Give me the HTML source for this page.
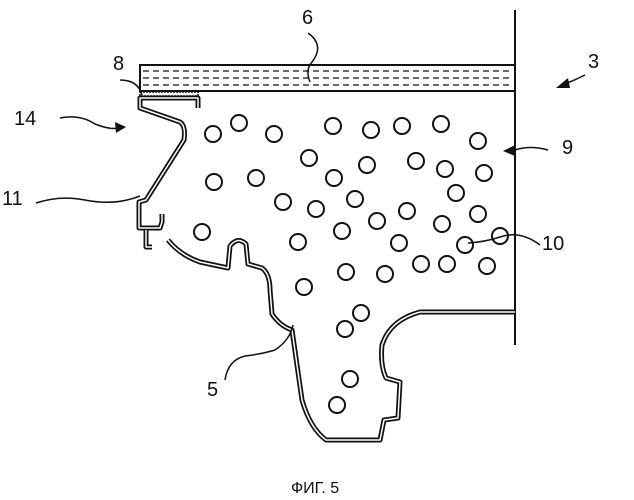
<!DOCTYPE html><html><head><style>body{margin:0;background:#fff}svg{display:block}text{font-family:"Liberation Sans",sans-serif;font-size:20px;fill:#111}</style></head><body>
<svg width="634" height="500" viewBox="0 0 634 500" xmlns="http://www.w3.org/2000/svg">
<g fill="none" stroke="#111" stroke-width="2">
<line x1="515" y1="10" x2="515" y2="345"/>
<rect x="140" y="65" width="375" height="26"/>
<line x1="143" y1="71" x2="513" y2="71" stroke-dasharray="6,4" stroke-width="1.2"/>
<line x1="143" y1="78" x2="513" y2="78" stroke-dasharray="6,4" stroke-width="1.2"/>
<line x1="143" y1="85" x2="513" y2="85" stroke-dasharray="6,4" stroke-width="1.2"/>
<rect x="140" y="92" width="58" height="4" stroke-width="1.5" stroke-dasharray="2,1"/>
</g>
<g fill="none" stroke="#111" stroke-width="5" stroke-linejoin="round">
<path id="p1" d="M198,108 L198,98 L140,98 L140,108 L180,122 Q186,126 184,140 L146,200 L139,202 L139,228 L160,228 L162,222 L162,214 M146,230 L146,247 L152,247"/>
<path id="p2" d="M168,240 Q180,255 200,262 L228,268 L230,246 Q238,236 246,244 L248,264 L262,268 Q270,274 270,290 L272,314 Q280,326 292,330 L302,400 Q310,428 326,440 L380,440 L384,420 L398,418 L400,382 L386,378 Q380,365 382,345 Q390,320 420,312 L515,312"/>
</g>
<g fill="none" stroke="#fff" stroke-width="1.5" stroke-linejoin="round">
<use href="#p1"/><use href="#p2"/>
</g>
<g fill="none" stroke="#111" stroke-width="2">
<circle cx="213" cy="134" r="8"/><circle cx="239" cy="123" r="8"/><circle cx="274" cy="134" r="8"/><circle cx="333" cy="126" r="8"/><circle cx="371" cy="130" r="8"/><circle cx="402" cy="126" r="8"/><circle cx="441" cy="124" r="8"/><circle cx="478" cy="141" r="8"/>
<circle cx="309" cy="158" r="8"/><circle cx="367" cy="165" r="8"/><circle cx="416" cy="161" r="8"/><circle cx="445" cy="169" r="8"/><circle cx="484" cy="173" r="8"/>
<circle cx="214" cy="182" r="8"/><circle cx="256" cy="178" r="8"/><circle cx="334" cy="178" r="8"/><circle cx="456" cy="193" r="8"/>
<circle cx="283" cy="202" r="8"/><circle cx="316" cy="209" r="8"/><circle cx="355" cy="199" r="8"/><circle cx="407" cy="211" r="8"/><circle cx="478" cy="214" r="8"/><circle cx="442" cy="224" r="8"/><circle cx="377" cy="221" r="8"/>
<circle cx="202" cy="232" r="8"/><circle cx="298" cy="242" r="8"/><circle cx="342" cy="231" r="8"/><circle cx="399" cy="243" r="8"/><circle cx="465" cy="245" r="8"/><circle cx="500" cy="236" r="8"/>
<circle cx="346" cy="272" r="8"/><circle cx="385" cy="274" r="8"/><circle cx="421" cy="264" r="8"/><circle cx="447" cy="264" r="8"/><circle cx="487" cy="266" r="8"/>
<circle cx="304" cy="287" r="8"/><circle cx="361" cy="313" r="8"/><circle cx="345" cy="329" r="8"/><circle cx="350" cy="379" r="8"/><circle cx="337" cy="405" r="8"/>
</g>
<g fill="none" stroke="#111" stroke-width="1.5">
<path d="M308,33 Q325,45 312,62 Q305,70 310,82"/>
<path d="M120,80 Q138,80 142,95"/>
<path d="M60,118 Q80,114 95,124 Q110,130 118,128"/>
<path d="M36,203 Q60,195 85,200 Q115,206 140,196"/>
<path d="M585,75 Q575,80 565,84"/>
<path d="M548,150 Q530,145 515,150"/>
<path d="M540,245 Q520,230 500,237 Q485,242 468,243"/>
<path d="M225,380 Q228,360 245,356 Q262,354 275,350 Q290,340 293,325"/>
</g>
<g fill="#111"><path d="M126,127 L115,122 L116,133Z"/><path d="M556,88 L568,78 L570,88Z"/><path d="M503,151 L515,145 L515,156Z"/></g>
<text x="302" y="24">6</text><text x="113" y="70">8</text><text x="14" y="125">14</text><text x="2" y="205">11</text><text x="588" y="68">3</text><text x="562" y="154">9</text><text x="542" y="250">10</text><text x="207" y="396">5</text>
<text x="291" y="493" style="font-size:16px">ФИГ. 5</text>
</svg></body></html>
